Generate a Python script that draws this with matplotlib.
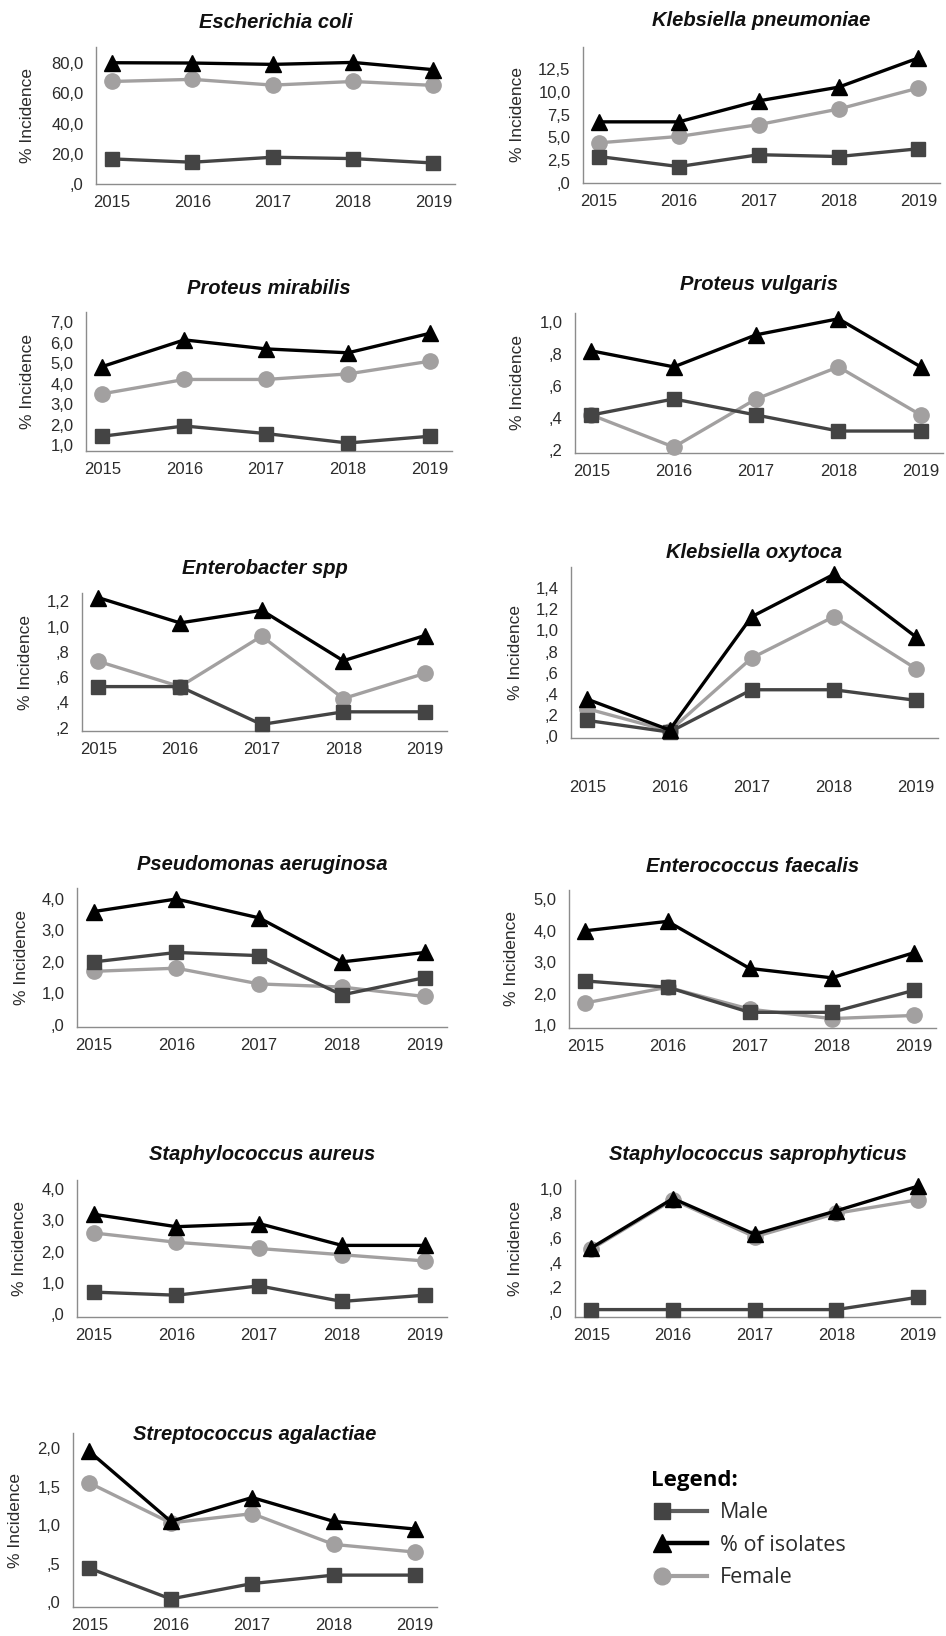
import matplotlib
matplotlib.use("Agg")
import matplotlib.pyplot as plt
from matplotlib.lines import Line2D
from matplotlib.legend_handler import HandlerLine2DCompound

years = ["2015", "2016", "2017", "2018", "2019"]

# values: (% of isolates, male, female)
ecoli_total = [80.2, 80.0, 79.1, 80.4, 75.6]
ecoli_male = [16.6, 14.4, 17.7, 16.8, 13.9]
ecoli_female = [67.8, 69.2, 65.4, 67.8, 65.2]

kpneu_total = [6.7, 6.7, 9.0, 10.5, 13.7]
kpneu_male = [2.9, 1.8, 3.1, 2.9, 3.75]
kpneu_female = [4.4, 5.1, 6.4, 8.1, 10.4]

pmir_total = [4.84, 6.14, 5.70, 5.51, 6.46]
pmir_male = [1.44, 1.94, 1.57, 1.11, 1.44]
pmir_female = [3.51, 4.21, 4.21, 4.48, 5.10]

pvul_total = [0.82, 0.72, 0.92, 1.02, 0.72]
pvul_male = [0.42, 0.52, 0.42, 0.32, 0.32]
pvul_female = [0.42, 0.22, 0.52, 0.72, 0.42]

entb_total = [1.23, 1.03, 1.13, 0.73, 0.93]
entb_male = [0.525, 0.525, 0.225, 0.325, 0.325]
entb_female = [0.725, 0.525, 0.925, 0.43, 0.63]

koxy_total = [0.35, 0.06, 1.13, 1.53, 0.94]
koxy_male = [0.15, 0.04, 0.44, 0.44, 0.34]
koxy_female = [0.26, 0.05, 0.74, 1.13, 0.64]

pseu_total = [3.6, 4.0, 3.4, 2.0, 2.3]
pseu_male = [2.0, 2.3, 2.2, 0.95, 1.5]
pseu_female = [1.7, 1.8, 1.3, 1.2, 0.9]

entc_total = [4.0, 4.3, 2.8, 2.5, 3.3]
entc_male = [2.4, 2.2, 1.4, 1.4, 2.1]
entc_female = [1.7, 2.2, 1.5, 1.2, 1.3]

saur_total = [3.2, 2.8, 2.9, 2.2, 2.2]
saur_male = [0.7, 0.6, 0.9, 0.4, 0.6]
saur_female = [2.6, 2.3, 2.1, 1.9, 1.7]

ssap_total = [0.52, 0.92, 0.63, 0.82, 1.02]
ssap_male = [0.02, 0.02, 0.02, 0.02, 0.12]
ssap_female = [0.51, 0.91, 0.61, 0.80, 0.91]

strep_total = [1.96, 1.05, 1.36, 1.05, 0.95]
strep_male = [0.44, 0.04, 0.24, 0.35, 0.35]
strep_female = [1.55, 1.03, 1.15, 0.75, 0.65]

titles = ["Escherichia coli", "Klebsiella pneumoniae", "Proteus mirabilis",
          "Proteus vulgaris", "Enterobacter spp", "Klebsiella oxytoca",
          "Pseudomonas aeruginosa", "Enterococcus faecalis",
          "Staphylococcus aureus", "Staphylococcus saprophyticus",
          "Streptococcus agalactiae"]
series = [
    (ecoli_total, ecoli_male, ecoli_female),
    (kpneu_total, kpneu_male, kpneu_female),
    (pmir_total, pmir_male, pmir_female),
    (pvul_total, pvul_male, pvul_female),
    (entb_total, entb_male, entb_female),
    (koxy_total, koxy_male, koxy_female),
    (pseu_total, pseu_male, pseu_female),
    (entc_total, entc_male, entc_female),
    (saur_total, saur_male, saur_female),
    (ssap_total, ssap_male, ssap_female),
    (strep_total, strep_male, strep_female),
]
yticks = [
    [0, 20, 40, 60, 80],
    [0, 2.5, 5, 7.5, 10, 12.5],
    [1, 2, 3, 4, 5, 6, 7],
    [0.2, 0.4, 0.6, 0.8, 1.0],
    [0.2, 0.4, 0.6, 0.8, 1.0, 1.2],
    [0, 0.2, 0.4, 0.6, 0.8, 1.0, 1.2, 1.4],
    [0, 1, 2, 3, 4],
    [1, 2, 3, 4, 5],
    [0, 1, 2, 3, 4],
    [0, 0.2, 0.4, 0.6, 0.8, 1.0],
    [0, 0.5, 1.0, 1.5, 2.0],
]
ylims = [(0, 90.6), (0, 14.9), (0.72, 7.5), (0.183, 1.056), (0.173, 1.267),
         (-0.016, 1.6), (-0.07, 4.35), (0.9, 5.3), (-0.1, 4.3), (-0.04, 1.07),
         (-0.065, 2.2)]

# layout in pixels: left, right, top, bottom of the plot area, title y, ylabel x, xlabel pad
W, H = 946, 1636
boxes = [
    (96, 455, 47, 184, 22, 27, 8),
    (583, 940, 47, 183, 20, 518, 8),
    (86, 452, 312, 451, 288, 28, 8),
    (575, 943, 313, 453, 285, 518, 8),
    (82, 447, 593, 731, 568, 25, 8),
    (571, 938, 567, 738, 553, 515, 30),
    (77, 447, 888, 1027, 865, 22, 8),
    (569, 936, 890, 1028, 867, 511, 8),
    (77, 447, 1180, 1317, 1155, 20, 8),
    (575, 940, 1180, 1317, 1155, 516, 8),
    (73, 437, 1433, 1607, 1435, 15, 8),
]

c_total = "#000000"
c_male = "#444444"
c_female = "#a2a0a0"
font = "Liberation Sans"


def fmt(v):
    s = "{:.1f}".format(v).replace(".", ",")
    if s.startswith("0,"):
        s = s[1:]
    return s


fig = plt.figure(figsize=(W / 100, H / 100), dpi=100)

for i in range(len(titles)):
    l, r, t, b, ty, yx, xpad = boxes[i]
    ax = fig.add_axes([l / W, 1 - b / H, (r - l) / W, (b - t) / H])
    total, male, female = series[i]
    x = range(len(years))
    ax.plot(x, female, color=c_female, lw=2.4, marker="o", ms=11,
            mfc=c_female, mec=c_female, zorder=3)
    ax.plot(x, male, color=c_male, lw=2.4, marker="s", ms=10.5,
            mfc=c_male, mec=c_male, zorder=4)
    ax.plot(x, total, color=c_total, lw=2.4, marker="^", ms=11.5,
            mfc=c_total, mec=c_total, zorder=5)
    for ln in ax.lines:
        ln.set_clip_on(False)
    ax.set_xlim(-0.2, 4.27)
    ax.set_ylim(*ylims[i])
    ax.set_xticks(list(x))
    ax.set_xticklabels(years)
    ax.set_yticks(yticks[i])
    ax.set_yticklabels([fmt(v) for v in yticks[i]])
    for sp in ["top", "right"]:
        ax.spines[sp].set_visible(False)
    for sp in ["left", "bottom"]:
        ax.spines[sp].set_color("#8c8c8c")
        ax.spines[sp].set_linewidth(1.0)
    ax.tick_params(axis="both", length=0, labelsize=12, labelcolor="#2b2b2b")
    ax.tick_params(axis="y", pad=9)
    ax.tick_params(axis="x", pad=xpad)
    for lab in ax.get_xticklabels() + ax.get_yticklabels():
        lab.set_fontfamily(font)
    ax.patch.set_alpha(0)
    fig.text((l + r) / 2 / W, 1 - ty / H, titles[i], ha="center", va="center",
             fontsize=14.5, fontweight="bold", fontstyle="italic",
             family=font, color="#111111")
    fig.text(yx / W, 1 - (t + b) / 2 / H, "% Incidence", rotation=90,
             ha="center", va="center", fontsize=12.5, family=font,
             color="#2b2b2b")


class MarkerFirst(HandlerLine2DCompound):
    # marker at the left end, line running to the right of it
    def get_xdata(self, legend, xdescent, ydescent, width, height, fontsize):
        xdata = [-xdescent + 0.5 * fontsize, -xdescent + width]
        xdata_marker = [-xdescent + 0.5 * fontsize]
        return xdata, xdata_marker


handles = [
    Line2D([], [], color="#5e5e5e", lw=3, marker="s", ms=11.5,
           mfc=c_male, mec=c_male),
    Line2D([], [], color=c_total, lw=3.2, marker="^", ms=12.5,
           mfc=c_total, mec=c_total),
    Line2D([], [], color=c_female, lw=3, marker="o", ms=12,
           mfc=c_female, mec=c_female),
]
labels = ["Male", "% of isolates", "Female"]
leg = fig.legend(handles, labels, loc="upper left",
                 bbox_to_anchor=(651 / W, 1 - 1470 / H),
                 frameon=False, title="Legend:", alignment="left",
                 prop={"family": "Open Sans", "size": 15.5},
                 title_fontproperties={"family": "Open Sans", "size": 16,
                                       "weight": "bold"},
                 handlelength=2.6, handletextpad=0.6, labelspacing=0.53,
                 borderpad=0, borderaxespad=0,
                 handler_map={Line2D: MarkerFirst()})
for txt in leg.get_texts():
    txt.set_color("#2b2b2b")

fig.savefig("out.png", dpi=100)
